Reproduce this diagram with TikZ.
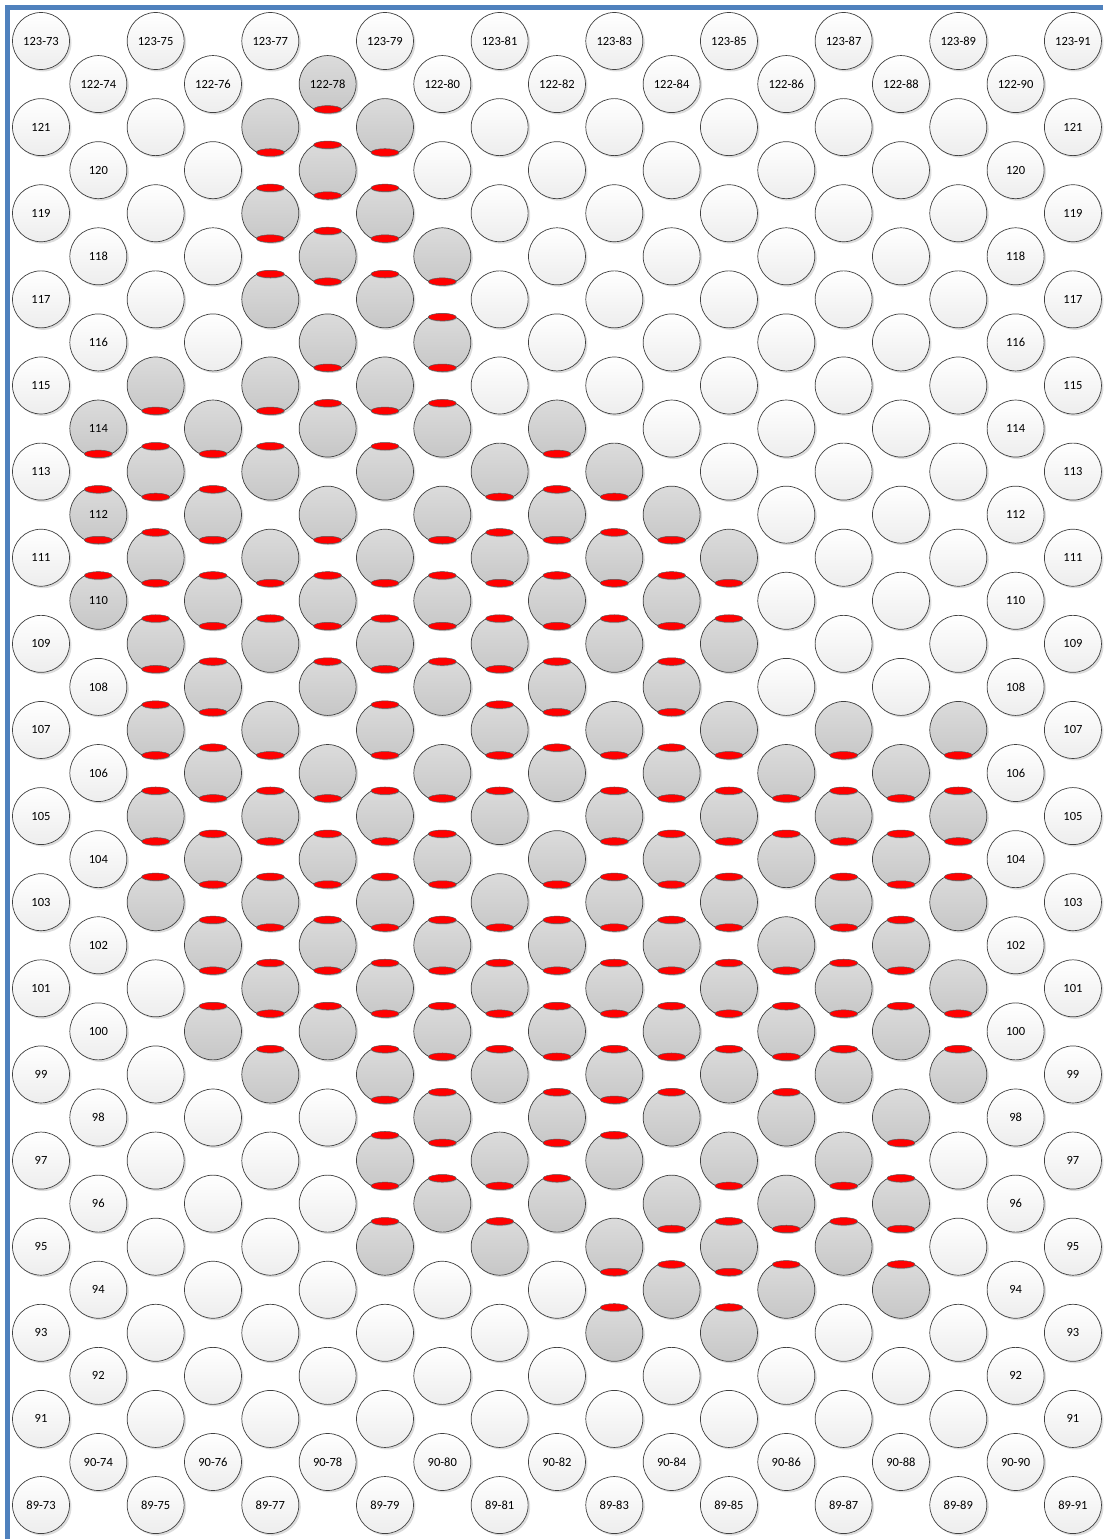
\documentclass[tikz,border=0pt]{standalone}
\usepackage{fontspec}
\setmainfont{Carlito}
\usetikzlibrary{shadows,shapes.geometric}

\definecolor{frameblue}{RGB}{79,129,189}

% grey holes: row/column/top seal/bottom seal
\def\pluglist{1/5/0/1,
  2/4/0/1, 2/6/0/1,
  3/5/1/1,
  4/4/1/1, 4/6/1/1,
  5/5/1/1, 5/7/0/1,
  6/4/1/0, 6/6/1/0,
  7/5/0/1, 7/7/1/1,
  8/2/0/1, 8/4/0/1, 8/6/0/1,
  9/1/0/1, 9/3/0/1, 9/5/1/0, 9/7/1/0, 9/9/0/1,
  10/2/1/1, 10/4/1/0, 10/6/1/0, 10/8/0/1, 10/10/0/1,
  11/1/1/1, 11/3/1/1, 11/5/0/1, 11/7/0/1, 11/9/1/1, 11/11/0/1,
  12/2/1/1, 12/4/0/1, 12/6/0/1, 12/8/1/1, 12/10/1/1, 12/12/0/1,
  13/1/1/0, 13/3/1/1, 13/5/1/1, 13/7/1/1, 13/9/1/1, 13/11/1/1,
  14/2/1/1, 14/4/1/0, 14/6/1/1, 14/8/1/1, 14/10/1/0, 14/12/1/0,
  15/3/1/1, 15/5/1/0, 15/7/1/0, 15/9/1/1, 15/11/1/1,
  16/2/1/1, 16/4/0/1, 16/6/1/1, 16/8/1/1, 16/10/0/1, 16/12/0/1, 16/14/0/1, 16/16/0/1,
  17/3/1/1, 17/5/0/1, 17/7/0/1, 17/9/1/0, 17/11/1/1, 17/13/0/1, 17/15/0/1,
  18/2/1/1, 18/4/1/1, 18/6/1/1, 18/8/1/0, 18/10/1/1, 18/12/1/1, 18/14/1/1, 18/16/1/1,
  19/3/1/1, 19/5/1/1, 19/7/1/1, 19/9/0/1, 19/11/1/1, 19/13/1/0, 19/15/1/1,
  20/2/1/0, 20/4/1/1, 20/6/1/1, 20/8/0/1, 20/10/1/1, 20/12/1/1, 20/14/1/1, 20/16/1/0,
  21/3/1/1, 21/5/1/1, 21/7/1/1, 21/9/1/1, 21/11/1/1, 21/13/0/1, 21/15/1/1,
  22/4/1/1, 22/6/1/1, 22/8/1/1, 22/10/1/1, 22/12/1/1, 22/14/1/1, 22/16/0/1,
  23/3/1/0, 23/5/1/0, 23/7/1/1, 23/9/1/1, 23/11/1/1, 23/13/1/1, 23/15/1/0,
  24/4/1/0, 24/6/1/1, 24/8/1/0, 24/10/1/1, 24/12/1/0, 24/14/1/0, 24/16/1/0,
  25/7/1/1, 25/9/1/1, 25/11/1/0, 25/13/1/0, 25/15/0/1,
  26/6/1/1, 26/8/0/1, 26/10/1/0, 26/12/0/1, 26/14/0/1,
  27/7/1/0, 27/9/1/0, 27/11/0/1, 27/13/0/1, 27/15/1/1,
  28/6/1/0, 28/8/1/0, 28/10/0/1, 28/12/1/1, 28/14/1/0,
  29/11/1/0, 29/13/1/0, 29/15/1/0,
  30/10/1/0, 30/12/1/0}

\begin{document}
\begin{tikzpicture}[
  x=57.33pt, y=-43.06pt,
  every node/.style={font=\fontsize{12.5}{14}\selectfont},
  hole/.style={circle, draw=black!75, line width=0.7pt, minimum size=57pt, inner sep=0pt,
    top color=white, bottom color=black!7,
    drop shadow={shadow xshift=2pt, shadow yshift=-2pt, fill=black!30, opacity=0.45}},
  plug/.style={hole, top color=black!14, bottom color=black!22},
  seal/.style={ellipse, draw=black!65, line width=0.5pt, fill=red, minimum width=28pt,
    minimum height=7.5pt, inner sep=0pt,
    drop shadow={shadow xshift=0.5pt, shadow yshift=-1pt, fill=black!40, opacity=0.5}},
  frame/.style={draw=frameblue, line width=4.5pt}
]
\useasboundingbox (-41pt,41pt) rectangle (1062pt,-1498pt);
\path[frame] (1062pt,33.5pt) -| (-33.5pt,-1498pt);

% mark the grey holes
\foreach \r/\c/\hi/\lo in \pluglist {\expandafter\gdef\csname plug\r-\c\endcsname{}}

% the grid of holes
\foreach \r in {0,...,34} {
  \pgfmathtruncatemacro\first{mod(\r,2)}
  \pgfmathtruncatemacro\stepc{\first+2}
  \pgfmathtruncatemacro\last{18-\first}
  \pgfmathtruncatemacro\rowno{123-\r}
  \foreach \c in {\first,\stepc,...,\last} {
    \pgfmathtruncatemacro\colno{73+\c}
    \def\txt{}
    \ifnum\c=\first \edef\txt{\rowno}\fi
    \ifnum\c=\last \edef\txt{\rowno}\fi
    \ifnum\r<2 \edef\txt{\rowno-\colno}\fi
    \ifnum\r>32 \edef\txt{\rowno-\colno}\fi
    \ifcsname plug\r-\c\endcsname \def\kind{plug}\else \def\kind{hole}\fi
    \node[\kind] (p-\r-\c) at (\c,\r) {\txt};
  }
}

% red seals on the grey holes
\foreach \r/\c/\hi/\lo in \pluglist {
  \ifnum\hi=1 \node[seal] (s-\r-\c-t) at ([yshift=-3.5pt]p-\r-\c.north) {};\fi
  \ifnum\lo=1 \node[seal] (s-\r-\c-b) at ([yshift=3.5pt]p-\r-\c.south) {};\fi
}
\end{tikzpicture}
\end{document}
